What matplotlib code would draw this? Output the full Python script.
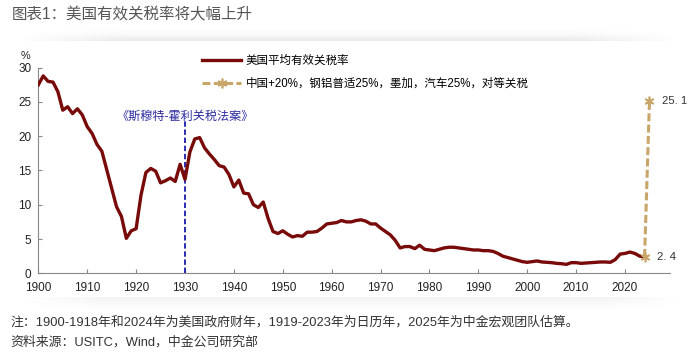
import numpy as np
import matplotlib
matplotlib.use("Agg")
import matplotlib.pyplot as plt

plt.rcParams['font.family'] = ['Liberation Sans', 'Noto Sans CJK SC', 'DejaVu Sans']

# US average effective tariff rate (%), 1900-2024
years = list(range(1900, 2025))
rate = [
    27.5, 28.8, 28.0, 27.9, 26.5, 23.8, 24.3, 23.3, 24.0, 23.1,  # 1900s
    21.4, 20.4, 18.8, 17.8, 15.1, 12.4, 9.7, 8.3, 5.1, 6.2,      # 1910s
    6.5, 11.4, 14.7, 15.3, 14.9, 13.2, 13.5, 13.9, 13.4, 15.9,   # 1920s
    13.7, 17.7, 19.6, 19.8, 18.3, 17.4, 16.6, 15.7, 15.5, 14.4,  # 1930s
    12.6, 13.6, 11.7, 11.6, 10.0, 9.6, 10.4, 8.0, 6.1, 5.8,      # 1940s
    6.2, 5.7, 5.3, 5.5, 5.4, 6.0, 6.0, 6.1, 6.6, 7.2,            # 1950s
    7.3, 7.4, 7.7, 7.5, 7.5, 7.7, 7.8, 7.6, 7.2, 7.2,            # 1960s
    6.6, 6.1, 5.6, 4.8, 3.7, 3.9, 3.9, 3.6, 4.1, 3.5,            # 1970s
    3.4, 3.3, 3.5, 3.7, 3.8, 3.8, 3.7, 3.6, 3.5, 3.4,            # 1980s
    3.4, 3.3, 3.3, 3.2, 2.9, 2.5, 2.3, 2.1, 1.9, 1.7,            # 1990s
    1.6, 1.7, 1.8, 1.65, 1.6, 1.55, 1.45, 1.4, 1.3, 1.55,        # 2000s
    1.55, 1.45, 1.5, 1.55, 1.6, 1.65, 1.65, 1.6, 2.0, 2.8,       # 2010s
    2.9, 3.1, 2.9, 2.5, 2.4,                                     # 2020-2024
]

# scenario: China +20%, steel/aluminium 25%, Mexico/Canada, autos 25%, reciprocal
scen_years = [2024, 2025]
scen_rate = [2.4, 25.1]
scen_labels = ['2. 4', '25. 1']

smoot_year = 1930
x_ticks = list(range(1900, 2021, 10))
y_ticks = list(range(0, 31, 5))

fig = plt.figure(figsize=(6.93, 3.54), dpi=100)

# soft panel shadows
bg = fig.add_axes([0, 0, 1, 1], zorder=-5)
H, W = 354, 693
img = np.ones((H, W, 4))
img[..., :3] = 0.35
alpha = np.zeros((H, W))
xx = np.arange(W)
hfade = np.clip(np.minimum((xx - 15) / 110, (680 - xx) / 110), 0, 1)
for r in range(26, 41):
    alpha[r] = 0.13 * ((r - 26) / 14) ** 2 * hfade
hfade2 = np.clip(np.minimum((xx - 20) / 80, (685 - xx) / 80), 0, 1)
for r in range(297, 312):
    alpha[r] = 0.07 * (1 - (r - 297) / 15) ** 1.5 * hfade2
img[..., 3] = alpha
bg.imshow(img, extent=[0, W, H, 0], aspect='auto')
bg.set_xlim(0, W)
bg.set_ylim(H, 0)
bg.axis('off')

ax = fig.add_axes([0.0553, 0.228, 0.9115, 0.5808])

ax.plot(years, rate, color='#780A0A', lw=2.4, solid_joinstyle='round',
        label='美国平均有效关税率', zorder=3)
ax.plot(scen_years, scen_rate, color='#C8A66A', lw=2.2, ls=(0, (2.6, 1.1)),
        marker=(6, 2, 0), markersize=7, markeredgewidth=1.2,
        label='中国+20%，钢铝普适25%，墨加，汽车25%，对等关税', zorder=4)
for x, y, s in zip(scen_years, scen_rate, scen_labels):
    ax.annotate(s, (x, y), xytext=(9, 0), textcoords='offset points',
                va='center', ha='left', fontsize=8.2, color='#333333')

ax.plot([smoot_year, smoot_year], [0, 22.6], color='#1A1AAA', lw=1.3,
        ls=(0, (3, 1.5)), zorder=2)
ax.text(smoot_year, 22.9, '《斯穆特-霍利关税法案》', ha='center', va='center',
        fontsize=8.7, color='#2B2BA0')

ax.set_xlim(1900, 2029.2)
ax.set_ylim(0, 30)
ax.set_xticks(x_ticks)
ax.set_yticks(y_ticks)
ax.tick_params(direction='in', length=3, width=0.8, colors='#888888',
               labelcolor='#222222', labelsize=8.5)
ax.tick_params(axis='x', pad=6)
ax.tick_params(axis='y', pad=5)
for s in ['top', 'right']:
    ax.spines[s].set_visible(False)
for s in ['left', 'bottom']:
    ax.spines[s].set_color('#888888')
    ax.spines[s].set_linewidth(0.8)
ax.text(-0.0206, 1.058, '%', transform=ax.transAxes, fontsize=7.8,
        color='#222222', ha='center', va='center')

fig.legend(loc='upper left', bbox_to_anchor=(202 / 693, 1 - 55 / 354),
           frameon=False, fontsize=8.3, handlelength=3.4, handletextpad=0.4,
           labelspacing=0.95, borderpad=0, borderaxespad=0)

fig.text(12 / 693, 1 - 15 / 354, '图表1：美国有效关税率将大幅上升', fontsize=11.2,
         color='#555555', va='center', ha='left')
fig.text(10 / 693, 1 - 322 / 354,
         '注：1900-1918年和2024年为美国政府财年，1919-2023年为日历年，2025年为中金宏观团队估算。',
         fontsize=9.3, color='#333333', va='center', ha='left')
fig.text(10 / 693, 1 - 342 / 354, '资料来源：USITC，Wind，中金公司研究部',
         fontsize=9.3, color='#333333', va='center', ha='left')

fig.savefig('out.png', dpi=100)
